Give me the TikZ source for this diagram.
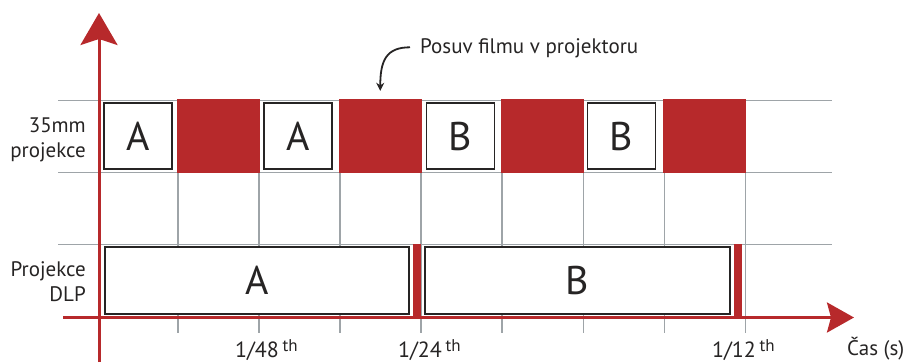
\documentclass[tikz,border=0pt]{standalone}
\usepackage{fontspec}
\setmainfont{PT Sans}
\usetikzlibrary{arrows.meta}
\definecolor{filmred}{RGB}{183,41,43}
\definecolor{gridgray}{RGB}{158,164,168}
\definecolor{ink}{RGB}{38,36,36}

\begin{document}
\begin{tikzpicture}[x=1pt,y=-1pt,
  gridline/.style={gridgray, line width=1.5pt},
  frame/.style={draw=ink, line width=1.6pt, fill=white, inner sep=0pt,
    font=\fontsize{40}{40}\selectfont, text=ink},
  shutter/.style={fill=filmred, inner sep=0pt},
  axis/.style={filmred, line width=3pt},
  lbl/.style={text=ink, font=\fontsize{21}{25}\selectfont, inner sep=0pt},
  ticklbl/.style={text=ink, font=\fontsize{22}{22}\selectfont, inner sep=0pt, anchor=base west},
  pointer/.style={draw=ink, line width=1.8pt, -{Stealth[length=8pt, width=8pt]}},
]
\useasboundingbox (0,0) rectangle (905,362);

% horizontal rows of the grid
\foreach \yy in {100.5,172.5,244.5}
  \draw[gridline] (58,\yy) -- (832,\yy);
% time divisions, continued below the time axis as ticks
\foreach \k in {0,...,7}
  \draw[gridline] ({177.8+81.1*\k},100.5) -- ({177.8+81.1*\k},333);

% 35 mm projector: frames A A B B with film advance in between
\node[shutter, minimum width=82.5pt, minimum height=74pt] (r1) at (218.25,136) {};
\node[shutter, minimum width=82.5pt, minimum height=74pt] (r2) at (380.25,136) {};
\node[shutter, minimum width=82.5pt, minimum height=74pt] (r3) at (542.25,136) {};
\node[shutter, minimum width=82.5pt, minimum height=74pt] (r4) at (704.25,136) {};
\node[frame, minimum width=68pt, minimum height=65.5pt] (f1) at (138,136) {A};
\node[frame, minimum width=68pt, minimum height=65.5pt] (f2) at (298,136) {A};
\node[frame, minimum width=68pt, minimum height=65.5pt] (f3) at (460.5,136) {B};
\node[frame, minimum width=68pt, minimum height=65.5pt] (f4) at (621.5,136) {B};

% DLP projector: one long frame each, short blanking between
\node[frame, minimum width=304pt, minimum height=67pt] (d1) at (256.75,280.25) {A};
\node[frame, minimum width=305.4pt, minimum height=67pt] (d2) at (577.5,280.25) {B};
\node[shutter, minimum width=8pt, minimum height=72pt] (b1) at (417,280) {};
\node[shutter, minimum width=8pt, minimum height=72pt] (b2) at (738,280) {};

% row labels
\node[lbl, align=right, anchor=east] (l1) at (86,139.5) {35mm\\projekce};
\node[lbl, align=right, anchor=east] (l2) at (86,282) {Projekce\\DLP};

% film advance note
\node[lbl, anchor=base west] (note) at (420,53) {Posuv filmu v projektoru};
\draw[pointer] ([xshift=-10pt,yshift=0.5pt]note.west)
  .. controls ([xshift=-34pt,yshift=0.5pt]note.west) and ([yshift=38pt]r2.north)
  .. ([yshift=8pt]r2.north);

% axes
\coordinate (vb) at (99,362);
\coordinate (vt) at (99,13);
\coordinate (hb) at (63,317.5);
\coordinate (ht) at (854,317.5);
\draw[axis, -{Stealth[length=32pt, width=37pt, inset=6pt]}] (vb) -- (vt);
\draw[axis, -{Stealth[length=27pt, width=30pt, inset=4pt]}] (hb) -- (ht);

% time labels
\node[ticklbl] (t48) at (235,357) {1/48\,\raisebox{5.5pt}{\fontsize{17}{17}\selectfont th}};
\node[ticklbl] (t24) at (398,357) {1/24\,\raisebox{5.5pt}{\fontsize{17}{17}\selectfont th}};
\node[ticklbl] (t12) at (712,357) {1/12\,\raisebox{5.5pt}{\fontsize{17}{17}\selectfont th}};
\node[ticklbl, font=\fontsize{21}{21}\selectfont] (tx) at (847,355.5) {Čas (s)};
\end{tikzpicture}
\end{document}
